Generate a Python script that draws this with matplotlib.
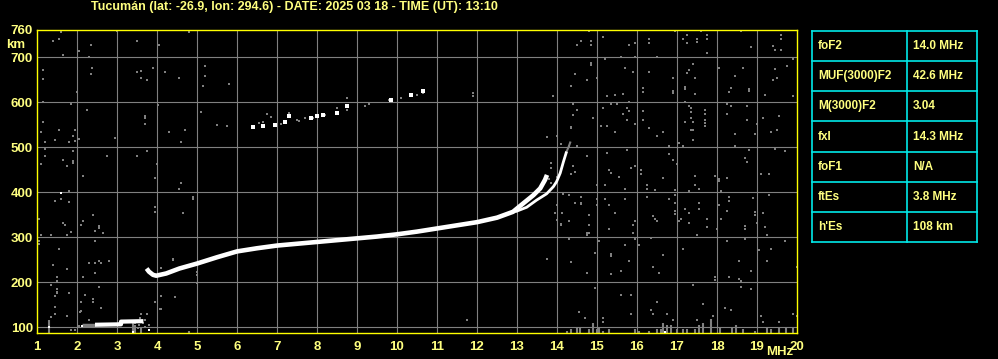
import numpy as np
import matplotlib
matplotlib.use('Agg')
import matplotlib.pyplot as plt

plt.rcParams['font.family'] = ['Liberation Sans', 'DejaVu Sans']

TITLE = 'Tucumán (lat: -26.9, lon: 294.6) - DATE: 2025 03 18 - TIME (UT): 13:10'

# F2 trace, ordinary branch (MHz, km)
fo_freq = [3.74, 3.80, 3.90, 3.98, 4.23, 4.56, 5.0, 5.5, 6.0, 6.5, 7.0, 7.5, 8.0, 8.5,
           9.0, 9.5, 10.0, 10.5, 11.0, 11.5, 12.0, 12.5, 12.9, 13.16, 13.41, 13.58, 13.70, 13.75]
fo_height = [230, 223, 216, 214, 219, 230, 241, 255, 268, 275, 281, 285, 289, 293,
             297, 301, 306, 312, 319, 326, 333, 343, 356, 375, 393, 408, 427, 438]
# extraordinary branch
fx_freq = [12.95, 13.24, 13.49, 13.74, 13.91, 13.99, 14.08, 14.16, 14.24]
fx_height = [356, 366, 382, 396, 412, 423, 442, 467, 490]
fx_tail_freq = [14.24, 14.29, 14.33]
fx_tail_height = [490, 500, 510]
# sporadic E
es_freq = [2.45, 3.10, 3.10, 3.66]
es_height = [105, 106, 112, 113]
es_tail_freq = [2.12, 2.45]
es_tail_height = [104, 104]
# second hop echoes
hop2_freq = [6.39, 6.64, 6.94, 7.19, 7.29, 7.84, 7.99, 8.14, 8.49, 8.74, 9.84, 10.34, 10.64]
hop2_height = [544, 546, 549, 556, 570, 565, 569, 572, 576, 592, 605, 616, 624]
# isolated strong echoes
white_freq = [1.59, 1.29, 3.81, 3.39, 2.13, 16.69]
white_height = [397, 101, 93, 89, 103, 89]

# weak echoes / noise (MHz, km)
noise = [
    (1.60, 756), (1.39, 736), (1.54, 741), (1.64, 705), (2.04, 714), (2.29, 700), (2.35, 727),
    (2.99, 758), (3.49, 736), (4.04, 727), (4.79, 756), (1.14, 672), (1.14, 652), (2.38, 676),
    (2.35, 663), (3.49, 667), (3.60, 670), (3.89, 676), (3.60, 653), (3.74, 650), (4.19, 667),
    (4.54, 653), (5.14, 636), (5.20, 680), (1.99, 622), (1.14, 600), (1.85, 596), (2.24, 583),
    (4.03, 593), (3.69, 570), (3.69, 564), (3.69, 551), (5.09, 578), (1.14, 556), (1.09, 533),
    (1.54, 538), (1.94, 538), (1.89, 524), (2.04, 518), (1.94, 514), (1.79, 511), (1.44, 516),
    (1.19, 511), (2.94, 520), (4.29, 533), (4.69, 538), (4.59, 511), (1.19, 495), (1.19, 481),
    (1.09, 462), (1.64, 471), (1.74, 458), (1.89, 492), (1.89, 470), (1.89, 465), (2.14, 436),
    (2.74, 481), (3.49, 481), (3.74, 492), (3.99, 462), (3.94, 431),
    (1.79, 402), (1.44, 380), (1.59, 384), (1.79, 378), (1.04, 340), (1.64, 332), (1.69, 327),
    (1.84, 311), (1.74, 305), (1.09, 305), (1.34, 305), (1.04, 292), (1.04, 284), (1.54, 273),
    (2.09, 327), (2.14, 336), (2.39, 350), (2.54, 325), (2.54, 320), (2.44, 314), (2.64, 310),
    (2.44, 292), (4.59, 421), (4.54, 407), (4.89, 388), (4.89, 384), (3.94, 367), (3.94, 356),
    (4.64, 354), (1.39, 238), (1.74, 230), (2.29, 243), (2.44, 243), (2.56, 247), (2.79, 247),
    (2.44, 221), (2.14, 212), (1.49, 212), (1.49, 203), (1.34, 193), (1.49, 178), (1.79, 176),
    (1.44, 170), (2.54, 190), (2.19, 172), (2.39, 163), (2.39, 156), (2.09, 156), (2.59, 143),
    (2.09, 136), (1.44, 144), (1.44, 129), (1.74, 124), (1.34, 122), (1.29, 112), (1.84, 93),
    (1.94, 93), (4.39, 250), (4.09, 231), (4.99, 222), (4.99, 216), (4.99, 197), (4.09, 169),
    (4.44, 167), (3.94, 156), (4.09, 141), (3.74, 129), (3.59, 129), (2.04, 102), (2.31, 116),
    (3.44, 108), (3.56, 104), (3.69, 101), (3.79, 104), (3.39, 97), (3.69, 116), (3.58, 120),
    (3.48, 113), (3.64, 110), (3.52, 98), (1.49, 185), (1.49, 175), (2.08, 134), (3.74, 128),
    (4.08, 140), (11.74, 116), (2.80, 247), (2.59, 243), (4.39, 252), (4.45, 167),
    (5.20, 658), (5.80, 641), (5.10, 578), (5.49, 548), (5.74, 547), (6.74, 574), (6.84, 567),
    (6.54, 553), (6.64, 556), (7.09, 551), (7.29, 576), (7.49, 560), (7.54, 557), (7.71, 565),
    (7.89, 565), (8.19, 572), (8.49, 587), (8.74, 609), (8.74, 583), (9.19, 592), (9.29, 596),
    (9.79, 605), (10.09, 610), (10.34, 614), (10.49, 616), (10.64, 620), (11.89, 620),
    (11.89, 614), (13.89, 614),
    (14.80, 758), (15.14, 745), (14.59, 736), (14.84, 735), (14.49, 727), (14.84, 727),
    (15.79, 727), (15.94, 732), (16.29, 739), (16.29, 732), (16.94, 758), (17.24, 750),
    (17.14, 741), (17.24, 732), (17.49, 739), (17.49, 734), (17.59, 758), (17.74, 750),
    (17.74, 741), (17.74, 710), (18.59, 758), (18.84, 723), (19.59, 750), (19.59, 741),
    (19.39, 724), (19.44, 716), (19.59, 716), (15.59, 701), (15.94, 701), (15.19, 696),
    (16.49, 701), (14.84, 687), (14.84, 682), (14.44, 662), (14.74, 649), (14.99, 653),
    (14.34, 636), (15.69, 676), (15.89, 667), (16.29, 667), (16.89, 653), (17.39, 684),
    (17.29, 671), (17.24, 664), (17.44, 653), (17.19, 634), (17.19, 629), (16.89, 625),
    (16.89, 620), (16.14, 631), (16.14, 622), (15.64, 618), (15.44, 616), (15.24, 613),
    (17.44, 618), (18.04, 676), (18.64, 676), (18.44, 658), (18.34, 631), (18.29, 622),
    (18.79, 624), (18.79, 630), (19.44, 674), (19.74, 680), (19.89, 695), (19.39, 649),
    (19.49, 653), (19.19, 616), (19.89, 613), (15.79, 600), (15.34, 596), (15.49, 596),
    (15.14, 587), (14.39, 596), (14.49, 582), (14.39, 572), (14.89, 564), (14.34, 542),
    (15.09, 547), (15.24, 547), (15.44, 533), (15.74, 587), (15.79, 581), (15.64, 573),
    (15.74, 560), (15.94, 551), (16.14, 581), (16.14, 560), (16.29, 542), (16.49, 524),
    (16.64, 533), (17.29, 591), (17.34, 587), (17.34, 578), (17.34, 564), (17.39, 556),
    (17.19, 556), (17.34, 538), (17.39, 538), (17.39, 516), (17.69, 582), (17.69, 573),
    (17.69, 560), (17.69, 547), (17.69, 553), (17.19, 600), (18.24, 596), (18.34, 591),
    (18.74, 591), (18.24, 573), (18.74, 560), (18.44, 529), (18.44, 502), (18.99, 551),
    (18.94, 529), (19.14, 564), (19.54, 569), (19.49, 538), (19.34, 533), (17.04, 510),
    (16.79, 502), (17.14, 502), (14.49, 502), (14.29, 502), (14.74, 480), (15.24, 487),
    (15.74, 493), (16.79, 484), (16.89, 471), (16.99, 462), (15.94, 458), (15.84, 453),
    (16.09, 449), (16.09, 440), (14.39, 458), (14.44, 444), (14.34, 440), (15.29, 449),
    (15.34, 443), (15.54, 434), (16.64, 431), (17.44, 436), (17.94, 436), (18.24, 431),
    (18.79, 493), (18.69, 476), (18.74, 467), (19.44, 495), (19.69, 492), (19.09, 440),
    (19.29, 440), (18.04, 429),
    (14.99, 416), (15.19, 416), (15.69, 407), (16.24, 416), (16.24, 407), (16.44, 404),
    (16.94, 404), (17.44, 416), (17.54, 407), (17.29, 403), (18.04, 424), (18.09, 403),
    (14.14, 396), (14.29, 394), (14.59, 390), (14.59, 373), (14.44, 376), (14.99, 385),
    (14.99, 372), (15.19, 385), (15.29, 372), (15.44, 354), (14.79, 350), (14.29, 336),
    (14.09, 327), (14.79, 327), (14.79, 310), (14.74, 305), (14.29, 296), (15.69, 385),
    (16.24, 390), (16.79, 385), (16.94, 393), (16.94, 376), (16.94, 358), (16.94, 352),
    (16.39, 347), (16.44, 341), (16.49, 336), (15.94, 336), (15.89, 327), (15.29, 318),
    (15.89, 310), (15.94, 296), (16.34, 298), (17.04, 336), (17.09, 341), (17.19, 363),
    (17.29, 354), (17.29, 332), (17.54, 376), (17.54, 363), (17.74, 341), (17.74, 323),
    (17.49, 305), (17.99, 318), (18.04, 372), (18.24, 358), (18.29, 390), (18.29, 381),
    (18.09, 341), (18.69, 324), (18.69, 318), (18.89, 387), (18.94, 356), (18.94, 350),
    (19.14, 354), (19.29, 394), (18.99, 332), (19.19, 323), (19.24, 305), (18.69, 296),
    (18.24, 292), (15.04, 292), (16.04, 283), (15.69, 283), (14.94, 265), (15.34, 262),
    (15.34, 257), (14.34, 244), (15.79, 247), (16.64, 261), (17.14, 274), (16.39, 234),
    (15.59, 225), (15.34, 218), (14.74, 221), (16.54, 221), (17.94, 212), (17.94, 205),
    (18.29, 212), (18.54, 247), (18.54, 207), (18.59, 203), (18.84, 225), (19.04, 271),
    (19.34, 274), (19.24, 247), (19.69, 292), (19.99, 234), (14.94, 187), (15.59, 172),
    (15.84, 172), (17.39, 194), (18.59, 190), (18.84, 185), (16.49, 156), (16.34, 138),
    (15.84, 129), (15.14, 120), (15.14, 111), (14.69, 120), (14.54, 133), (17.64, 151),
    (18.19, 142), (18.34, 138), (17.89, 124), (17.49, 116), (16.89, 116), (16.74, 129),
    (16.39, 129), (19.09, 124), (19.14, 111), (19.54, 111), (19.89, 129), (19.99, 124),
    (13.74, 522), (13.99, 524), (14.34, 544), (14.10, 507), (14.30, 502), (14.49, 501),
    (14.74, 481), (13.84, 464), (13.84, 454), (14.39, 458), (14.45, 445), (13.99, 434),
    (14.16, 396), (14.60, 390), (14.60, 375), (13.99, 371), (13.95, 354), (14.12, 353),
    (14.81, 349), (13.99, 338), (14.80, 327), (14.10, 328), (14.30, 296), (13.74, 252),
    (14.34, 244), (14.95, 265), (14.74, 308), (15.03, 292), (13.85, 420), (13.80, 430),
]
noise_freq = [p[0] for p in noise]
noise_height = [p[1] for p in noise]

# echo bars sitting on the bottom of the frame (MHz, top km)
floor_freq = [1.30, 3.39, 3.44, 3.59, 4.79, 14.24, 14.34, 14.49, 14.58, 14.81, 14.89, 14.99,
              15.04, 15.14, 15.31, 15.94, 16.04, 16.29, 16.49, 16.59, 16.64, 16.74, 16.84,
              16.99, 17.14, 17.24, 17.44, 17.54, 17.64, 17.84, 18.08, 18.38, 18.48, 18.64,
              18.94, 19.24, 19.34, 19.54, 19.73, 19.91]
floor_top = [115, 108, 104, 101, 92, 92, 95, 97, 101, 95, 108, 95,
             97, 92, 95, 95, 92, 92, 95, 95, 108, 104, 104,
             95, 95, 95, 95, 104, 108, 117, 97, 97, 104, 95,
             92, 97, 95, 97, 97, 97]

freq_ticks = list(range(1, 21))
height_ticks = [100, 200, 300, 400, 500, 600, 700, 760]

table_labels = ['foF2', 'MUF(3000)F2', 'M(3000)F2', 'fxI', 'foF1', 'ftEs', "h'Es"]
table_values = ['14.0 MHz', '42.6 MHz', '3.04', '14.3 MHz', 'N/A', '3.8 MHz', '108 km']

YEL = '#ffff00'
TXT = '#ffff80'
GRID = '#808080'
CYAN = '#00e8e8'
W, H = 998, 359
H_MIN, H_MAX = 86.7, 760

fig = plt.figure(figsize=(W / 100, H / 100), dpi=100, facecolor='black')
ax = fig.add_axes([37 / W, (H - 333) / H, 760 / W, 303 / H], facecolor='black')
ax.set_xlim(1, 20)
ax.set_ylim(H_MIN, H_MAX)

for f in freq_ticks[1:-1]:
    ax.axvline(f, color=GRID, lw=0.8, zorder=1)
for h in height_ticks[:-1]:
    ax.axhline(h, color=GRID, lw=0.8, zorder=1)

ax.vlines(floor_freq, H_MIN, floor_top, color=GRID, lw=1.5, zorder=2)
ax.scatter(noise_freq, noise_height, marker='s', s=3, color=GRID, linewidths=0, zorder=2)

ax.plot(es_tail_freq, es_tail_height, color=GRID, lw=2.5, solid_capstyle='butt', zorder=3)
ax.plot(es_freq, es_height, color='white', lw=3.0, solid_capstyle='butt', zorder=4)
ax.plot(fx_tail_freq, fx_tail_height, color=GRID, lw=1.5, zorder=3)
ax.plot(fo_freq, fo_height, color='white', lw=3.3, solid_capstyle='butt', zorder=4)
ax.plot(fx_freq, fx_height, color='white', lw=2.0, solid_capstyle='butt', zorder=4)
ax.scatter(hop2_freq, hop2_height, marker='s', s=5, color='white', linewidths=0, zorder=4)
ax.scatter(white_freq, white_height, marker='s', s=3, color='white', linewidths=0, zorder=4)

ax.set_xticks(freq_ticks)
ax.set_xticklabels([str(f) for f in freq_ticks])
ax.set_yticks(height_ticks)
ax.set_yticklabels([str(h) for h in height_ticks])
ax.tick_params(axis='both', length=0, colors=TXT, labelsize=9.5)
ax.tick_params(axis='x', pad=6)
ax.tick_params(axis='y', pad=3)
for lab in ax.get_xticklabels() + ax.get_yticklabels():
    lab.set_fontweight('bold')
for s in ax.spines.values():
    s.set_color(YEL)
    s.set_linewidth(1.0)

# overlay in pixel units for title, unit labels and parameter table
ov = fig.add_axes([0, 0, 1, 1], facecolor='none')
ov.set_xlim(0, W)
ov.set_ylim(H, 0)
ov.axis('off')
ov.text(294, 7, TITLE, color=TXT, fontsize=9, fontweight='bold', ha='center', va='center')
ov.text(6, 45, 'km', color=TXT, fontsize=9.5, fontweight='bold', ha='left', va='center')
ov.text(780, 352, 'MHz', color=TXT, fontsize=9.5, fontweight='bold', ha='center', va='center')

x0, xm, x1 = 812, 907, 977
y0, row_h = 30.7, 30.23
n = len(table_labels)
for i in range(n + 1):
    y = y0 + i * row_h
    ov.plot([x0, x1], [y, y], color=CYAN, lw=1.2)
for x in (x0, xm, x1):
    ov.plot([x, x], [y0, y0 + n * row_h], color=CYAN, lw=1.2)
for i, (lab, val) in enumerate(zip(table_labels, table_values)):
    yc = y0 + (i + 0.5) * row_h
    ov.text(818, yc, lab, color=TXT, fontsize=8.5, fontweight='bold', ha='left', va='center')
    ov.text(913, yc, val, color=TXT, fontsize=8.5, fontweight='bold', ha='left', va='center')

fig.savefig('out.png', dpi=100, facecolor='black')
